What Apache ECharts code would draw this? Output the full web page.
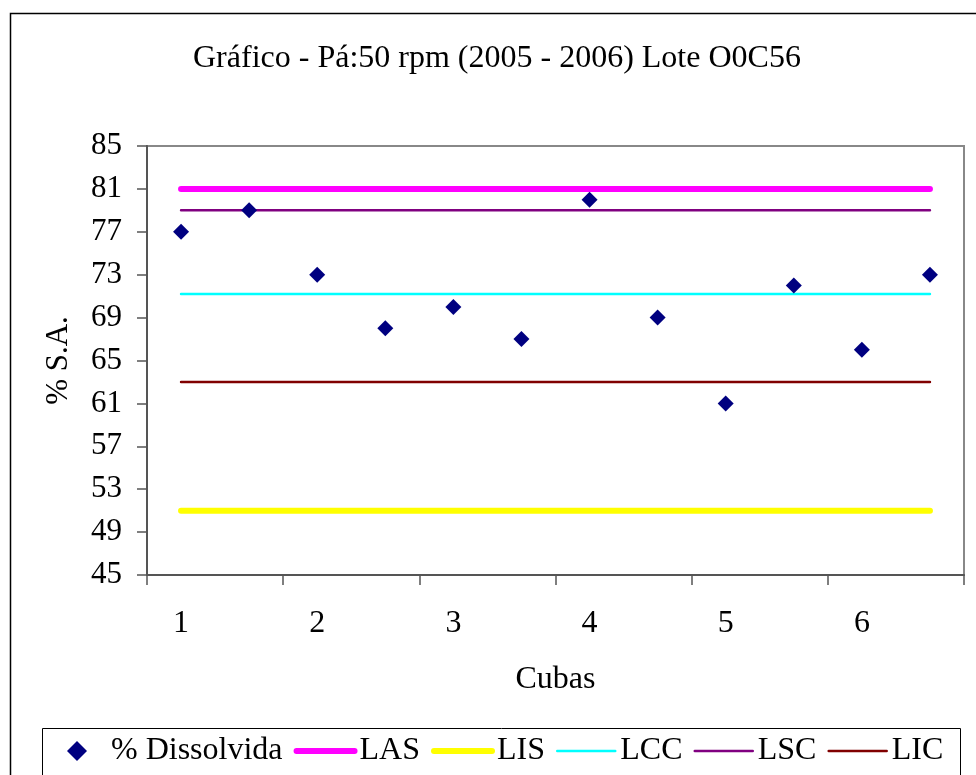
<!DOCTYPE html>
<html>
<head>
<meta charset="utf-8">
<script src="https://cdn.jsdelivr.net/npm/echarts@6/dist/echarts.min.js"></script>
<style>html,body{margin:0;padding:0;background:#fff}#c{width:976px;height:775px}</style>
</head>
<body>
<div id="c"></div>
<script>
const titleText = 'Gráfico - Pá:50 rpm (2005 - 2006) Lote O0C56';
const categories = ['1', '', '2', '', '3', '', '4', '', '5', '', '6', ''];
const dissolvida = [77, 79, 73, 68, 70, 67, 80, 69, 61, 72, 66, 73];
const LAS = [81, 81, 81, 81, 81, 81, 81, 81, 81, 81, 81, 81];
const LIS = [51, 51, 51, 51, 51, 51, 51, 51, 51, 51, 51, 51];
const LCC = [71.2, 71.2, 71.2, 71.2, 71.2, 71.2, 71.2, 71.2, 71.2, 71.2, 71.2, 71.2];
const LSC = [79, 79, 79, 79, 79, 79, 79, 79, 79, 79, 79, 79];
const LIC = [63, 63, 63, 63, 63, 63, 63, 63, 63, 63, 63, 63];
const yMin = 45, yMax = 85, yStep = 4;
const tickSlots = 12, tickEvery = 2;

const FONT = '"Liberation Serif", "Times New Roman", serif';
const chart = echarts.init(document.getElementById('c'), null, {renderer: 'canvas'});
const diamondPath = 'path://M0,-1L1,0L0,1L-1,0Z';
function limitLine(name, data, color, width) {
  return {
    name: name, type: 'line', data: data, symbol: 'none',
    xAxisIndex: 0, yAxisIndex: 0,
    lineStyle: {color: color, width: width, cap: 'round'},
    itemStyle: {color: color},
    silent: true, animation: false, z: 2
  };
}
function legendLine(name, width) {
  return {name: name, itemStyle: {opacity: 0}, lineStyle: {width: width, cap: 'round'}};
}
chart.setOption({
  animation: false,
  backgroundColor: '#fff',
  textStyle: {fontFamily: FONT, color: '#000'},
  graphic: [{
    type: 'rect', left: 8, top: 11, silent: true, z: 0,
    shape: {x: 0, y: 0, width: 1100, height: 900},
    style: {fill: 'none', stroke: '#000', lineWidth: 1.5}
  }, {
    type: 'rect', left: 40, top: 726, silent: true, z: 0,
    shape: {x: 0, y: 0, width: 918, height: 90},
    style: {fill: 'none', stroke: '#000', lineWidth: 1}
  }],
  title: {
    text: titleText, left: 188, top: 38,
    textStyle: {fontFamily: FONT, fontSize: 32, fontWeight: 'normal', color: '#000'}
  },
  grid: {
    left: 147, top: 146, right: 12, bottom: 200,
    show: true, borderColor: '#888', borderWidth: 2, backgroundColor: 'transparent'
  },
  legend: {
    left: 40, top: 726, width: 930,
    padding: [9, 6, 30, 27],
    borderWidth: 0,
    itemWidth: 58, itemHeight: 20, itemGap: 11,
    textStyle: {fontFamily: FONT, fontSize: 32, color: '#000'},
    data: [
      {name: '% Dissolvida', icon: diamondPath, itemStyle: {color: '#000080', opacity: 1}},
      legendLine('LAS', 6), legendLine('LIS', 6), legendLine('LCC', 2.5),
      legendLine('LSC', 2.5), legendLine('LIC', 2.5)
    ]
  },
  xAxis: [{
    type: 'category', data: categories, boundaryGap: true,
    name: 'Cubas', nameLocation: 'middle', nameGap: 89,
    nameTextStyle: {fontFamily: FONT, fontSize: 32, color: '#000'},
    axisLine: {lineStyle: {color: '#555', width: 2}},
    axisTick: {show: false},
    axisLabel: {interval: 0, margin: 33, fontFamily: FONT, fontSize: 32, color: '#000'},
    splitLine: {show: false}
  }, {
    type: 'value', min: 0, max: tickSlots, interval: tickEvery, position: 'bottom',
    axisLine: {show: false},
    axisTick: {show: true, length: 10, lineStyle: {color: '#555', width: 1.5}},
    axisLabel: {show: false},
    splitLine: {show: false}
  }],
  yAxis: {
    type: 'value', min: yMin, max: yMax, interval: yStep,
    name: '% S.A.', nameLocation: 'middle', nameGap: 73, nameRotate: 90,
    nameTextStyle: {fontFamily: FONT, fontSize: 31, color: '#000'},
    axisLine: {show: true, lineStyle: {color: '#555', width: 2}},
    axisTick: {show: true, length: 10, lineStyle: {color: '#555', width: 1.5}},
    axisLabel: {margin: 25, fontFamily: FONT, fontSize: 31, color: '#000'},
    splitLine: {show: false}
  },
  series: [
    {
      name: '% Dissolvida', type: 'scatter', data: dissolvida,
      xAxisIndex: 0, yAxisIndex: 0,
      symbol: diamondPath, symbolSize: 16, symbolKeepAspect: true,
      itemStyle: {color: '#000080', opacity: 1}, z: 5
    },
    limitLine('LAS', LAS, '#FF00FF', 6),
    limitLine('LIS', LIS, '#FFFF00', 6),
    limitLine('LCC', LCC, '#00FFFF', 2.5),
    limitLine('LSC', LSC, '#800080', 2.5),
    limitLine('LIC', LIC, '#800000', 2.5)
  ]
});
</script>
</body>
</html>
